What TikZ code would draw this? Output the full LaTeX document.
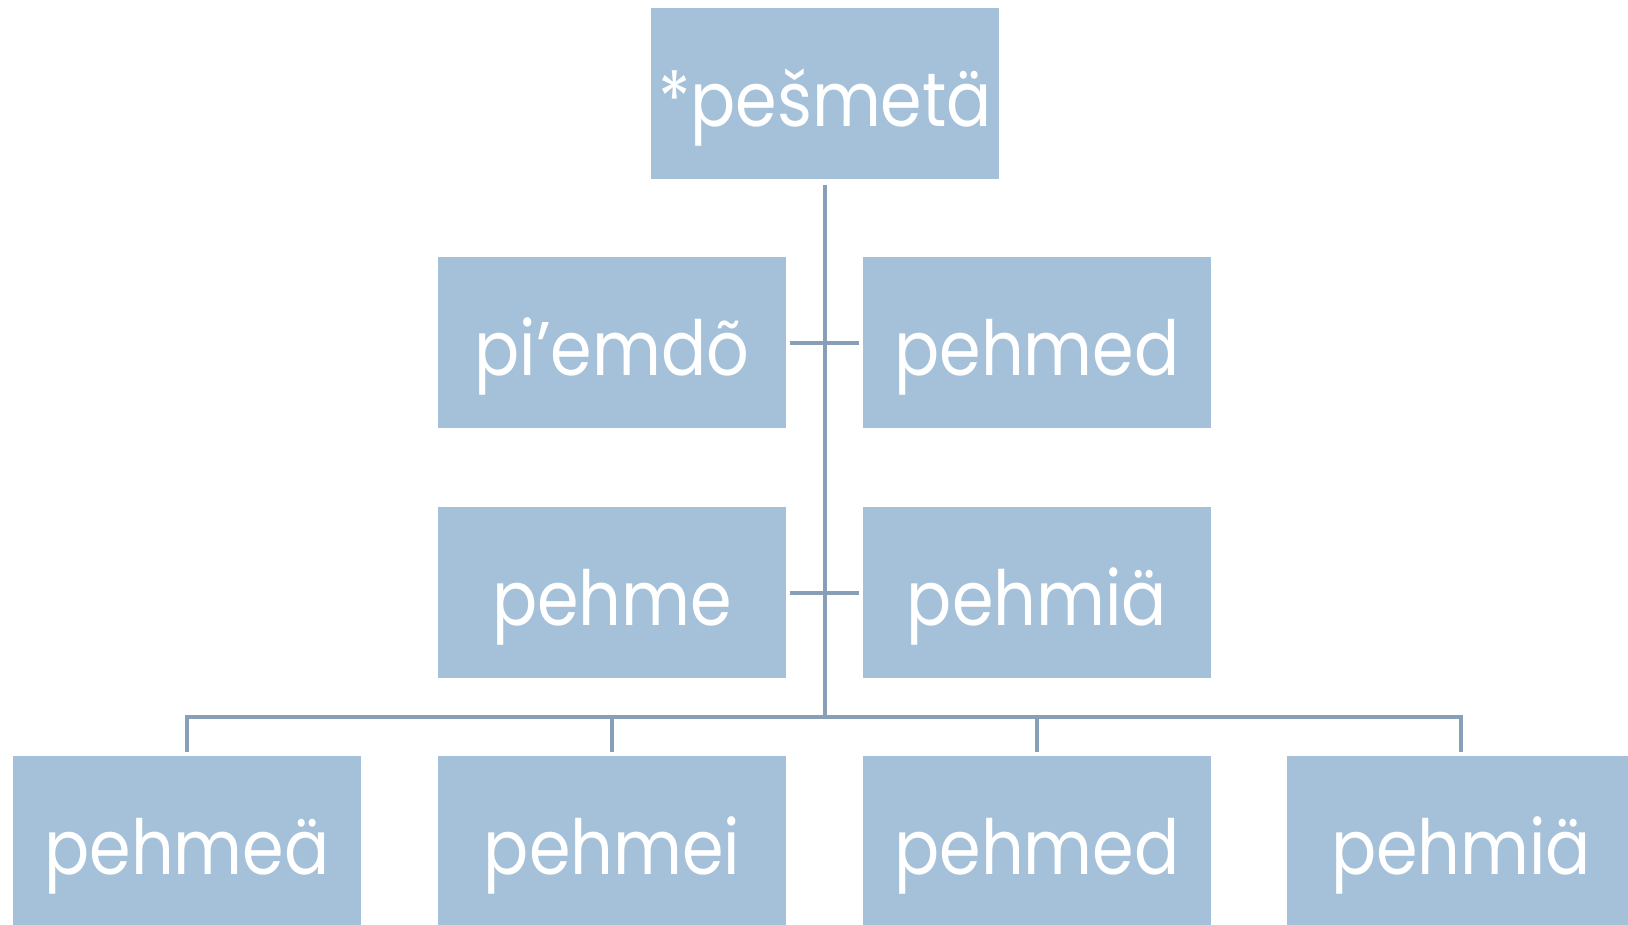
\documentclass[tikz,border=0pt]{standalone}
\usepackage{fontspec}
\setmainfont[FakeStretch=0.88]{Poppins}
\definecolor{boxfill}{HTML}{A5C1D9}
\definecolor{linecol}{HTML}{87A0B8}
\tikzset{
  box/.style={rectangle, fill=boxfill, inner sep=0pt, minimum width=348pt, minimum height=171pt,
    text=white, font=\fontsize{76}{80}\selectfont, text height=66pt, text depth=0pt},
  conn/.style={draw=linecol, line width=4pt}
}
\begin{document}
\begin{tikzpicture}[x=1pt,y=-1pt]
\clip (0,0) rectangle (1628,924);
\useasboundingbox (0,0) rectangle (1628,924);
\node[box] (top) at (825,93.5) {*pešmetä};
\node[box] (l2) at (612,342.5) {pi’emdõ};
\node[box] (r2) at (1037,342.5) {pehmed};
\node[box] (l3) at (612,592.5) {pehme};
\node[box] (r3) at (1037,592.5) {pehmiä};
\node[box] (b1) at (187,841.5) {pehmeä};
\node[box] (b2) at (612,841.5) {pehmei};
\node[box] (b3) at (1037,841.5) {pehmed};
\node[box] (b4) at (1461,841.5) {pehmiä};
\coordinate (bus) at (825,717);
\draw[conn] ([yshift=-6pt]top.south) -- (top.south |- bus);
\draw[conn] ([yshift=4pt]b1.north) -- (b1.north |- bus) -- (b4.north |- bus) -- ([yshift=4pt]b4.north);
\draw[conn] (b2.north |- bus) -- ([yshift=4pt]b2.north);
\draw[conn] (b3.north |- bus) -- ([yshift=4pt]b3.north);
\draw[conn] ([xshift=4pt]l2.east) -- ([xshift=-4pt]r2.west);
\draw[conn] ([xshift=4pt]l3.east) -- ([xshift=-4pt]r3.west);
\end{tikzpicture}
\end{document}
